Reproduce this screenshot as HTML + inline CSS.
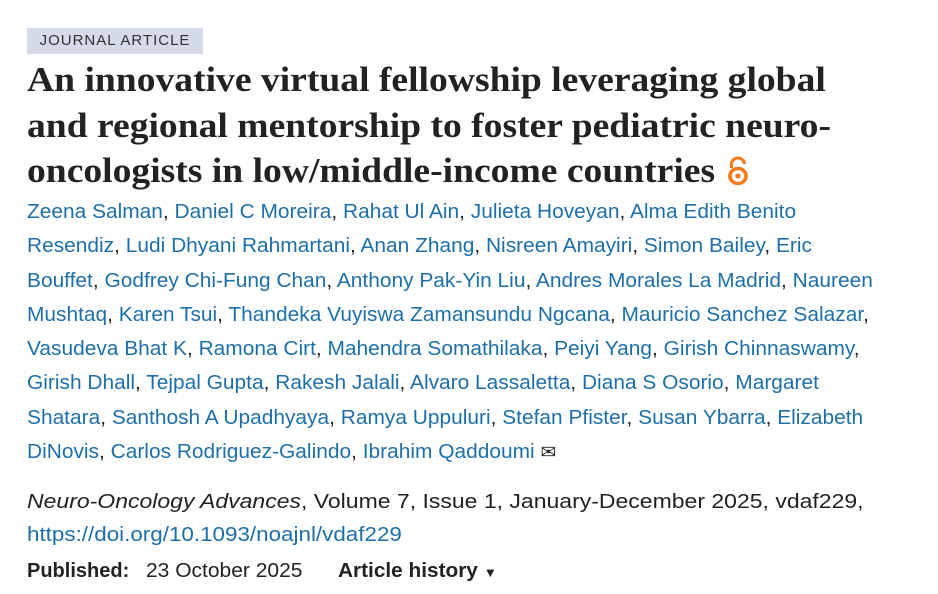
<!DOCTYPE html>
<html><head><meta charset="utf-8"><style>
body{margin:0;width:938px;height:594px;background:#fff;overflow:hidden;position:relative;font-family:"Liberation Sans",sans-serif}
.l{position:absolute;left:27px;white-space:nowrap;transform-origin:0 50%}
.badge{position:absolute;left:27px;top:28px;width:176px;height:26px;background:#d5dbe8;color:#333;font-size:15px;letter-spacing:1px;line-height:26px;text-align:center}
.t{font-family:"Liberation Serif",serif;font-weight:bold;font-size:35px;color:#222;line-height:46px;transform:scaleX(1.074)}
.a{font-size:20px;color:#1d6fa8;line-height:34px;transform:scaleX(1.045)}
.a span{color:#222}
.m{font-size:20px;color:#222;line-height:34px}
</style></head><body>
<div class="badge">JOURNAL ARTICLE</div>
<div class="l t" style="top:57px">An innovative virtual fellowship leveraging global</div>
<div class="l t" style="top:103px">and regional mentorship to foster pediatric neuro-</div>
<div class="l t" style="top:148px">oncologists in low/middle-income countries <svg width="26" height="30" viewBox="0 0 26 30" style="vertical-align:-4px"><path d="M7 12 V8 a6 6 0 0 1 12 0" fill="none" stroke="#f07c1f" stroke-width="3"/><circle cx="13" cy="20" r="7.5" fill="none" stroke="#f07c1f" stroke-width="3.5"/><circle cx="13" cy="20" r="2.5" fill="#f07c1f"/></svg></div>
<div class="l a" style="top:195px">Zeena Salman<span>,</span> Daniel C Moreira<span>,</span> Rahat Ul Ain<span>,</span> Julieta Hoveyan<span>,</span> Alma Edith Benito</div>
<div class="l a" style="top:229px">Resendiz<span>,</span> Ludi Dhyani Rahmartani<span>,</span> Anan Zhang<span>,</span> Nisreen Amayiri<span>,</span> Simon Bailey<span>,</span> Eric</div>
<div class="l a" style="top:264px">Bouffet<span>,</span> Godfrey Chi-Fung Chan<span>,</span> Anthony Pak-Yin Liu<span>,</span> Andres Morales La Madrid<span>,</span> Naureen</div>
<div class="l a" style="top:298px">Mushtaq<span>,</span> Karen Tsui<span>,</span> Thandeka Vuyiswa Zamansundu Ngcana<span>,</span> Mauricio Sanchez Salazar<span>,</span></div>
<div class="l a" style="top:332px">Vasudeva Bhat K<span>,</span> Ramona Cirt<span>,</span> Mahendra Somathilaka<span>,</span> Peiyi Yang<span>,</span> Girish Chinnaswamy<span>,</span></div>
<div class="l a" style="top:366px">Girish Dhall<span>,</span> Tejpal Gupta<span>,</span> Rakesh Jalali<span>,</span> Alvaro Lassaletta<span>,</span> Diana S Osorio<span>,</span> Margaret</div>
<div class="l a" style="top:401px">Shatara<span>,</span> Santhosh A Upadhyaya<span>,</span> Ramya Uppuluri<span>,</span> Stefan Pfister<span>,</span> Susan Ybarra<span>,</span> Elizabeth</div>
<div class="l a" style="top:435px">DiNovis<span>,</span> Carlos Rodriguez-Galindo<span>,</span> Ibrahim Qaddoumi <span style="font-size:18px">✉</span></div>
<div class="l m" style="top:485px;transform:scaleX(1.15)"><i>Neuro-Oncology Advances</i>, Volume 7, Issue 1, January-December 2025, vdaf229,</div>
<div class="l m" style="top:518px;color:#1d6fa8;transform:scaleX(1.12)">https://doi.org/10.1093/noajnl/vdaf229</div>
<div class="l m" style="top:554px"><b>Published:</b></div>
<div class="l m" style="top:554px;left:146px;transform:scaleX(1.05)">23 October 2025</div>
<div class="l m" style="top:554px;left:338px;transform:scaleX(1.04)"><b>Article history</b> <span style="font-size:13px">▼</span></div>
</body></html>
